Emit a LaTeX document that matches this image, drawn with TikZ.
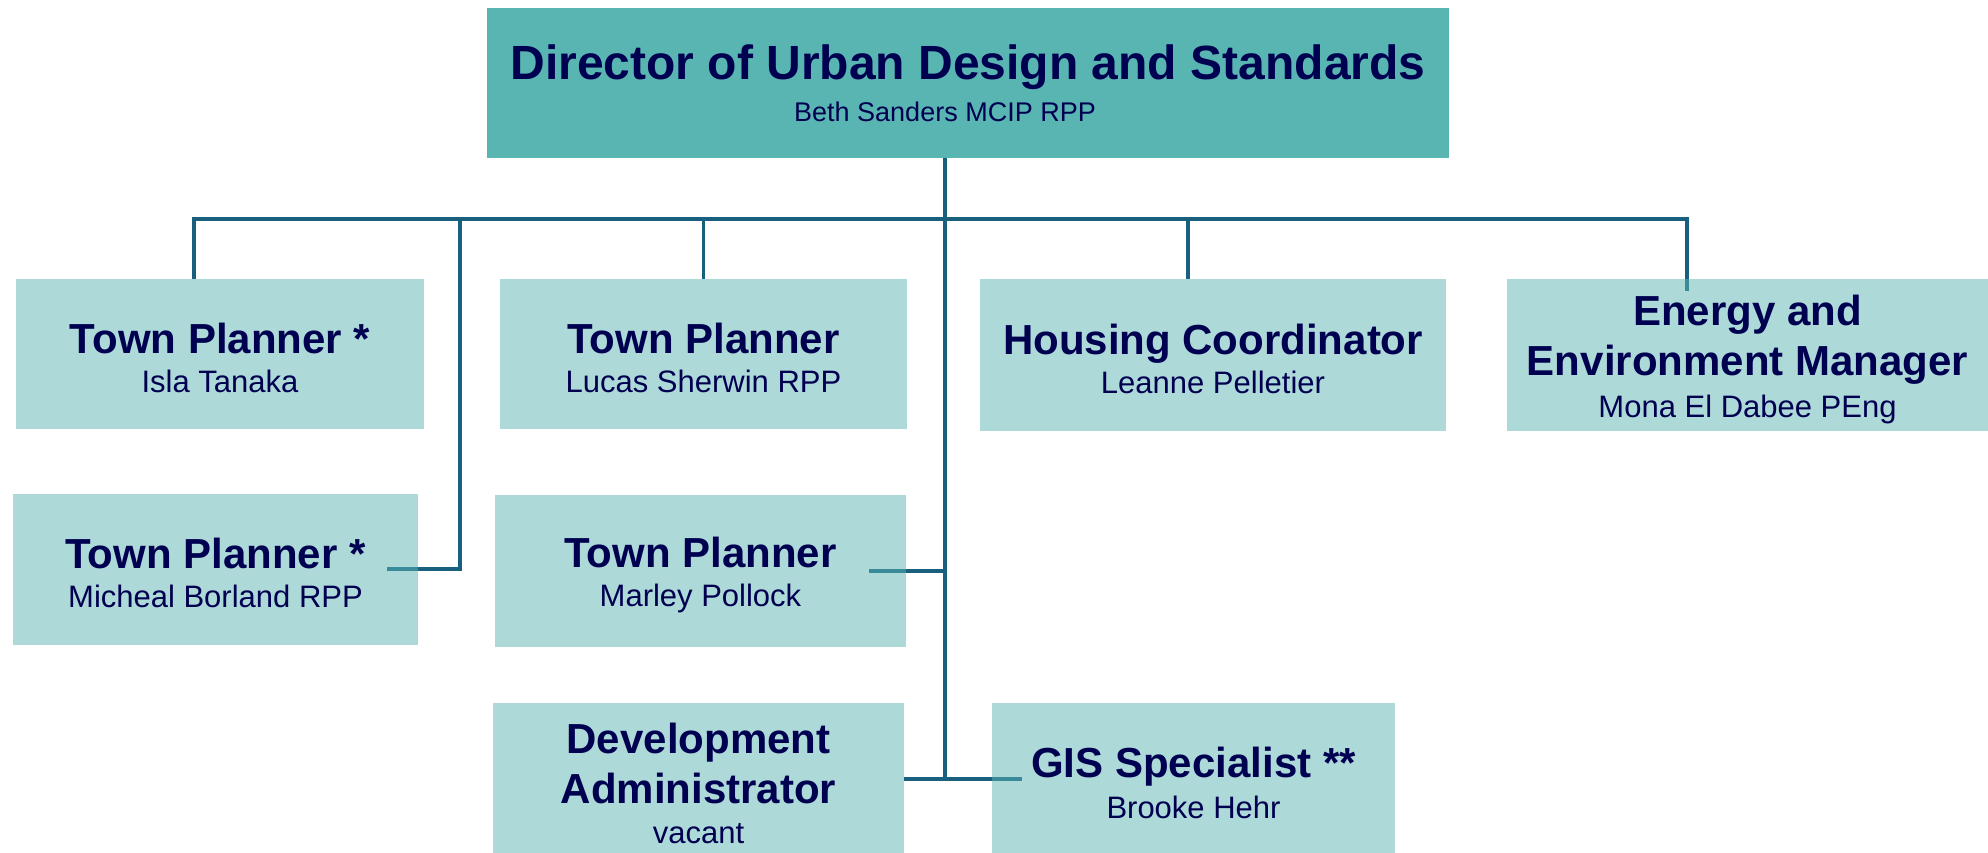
\documentclass[tikz,border=0pt]{standalone}
\usepackage{fontspec}
\setmainfont{Liberation Sans}

\definecolor{navy}{HTML}{000050}
\definecolor{headfill}{HTML}{58B5B2}
\definecolor{boxfill}{HTML}{ADD9D8}
\definecolor{linkcol}{HTML}{19607F}
\definecolor{stubcol}{HTML}{3A8B99}

% title in bold, holder's name below it
\newcommand{\role}[3][-11pt]{\rule{0pt}{39pt}#2\\[#1]{\mdseries\fontsize{31}{40}\selectfont #3}}

\begin{document}
\begin{tikzpicture}[x=1pt,y=-1pt,
    box/.style={fill=boxfill,text=navy,align=center,inner sep=0pt,
      font=\bfseries\fontsize{42}{50}\selectfont},
    head/.style={box,fill=headfill,font=\bfseries\fontsize{48}{54}\selectfont},
    link/.style={draw=linkcol,line width=3.5pt},
    stub/.style={draw=stubcol,line width=3.5pt}]
  \useasboundingbox (0,0) rectangle (1988,852);

  %% director
  \node[head,minimum width=962pt,minimum height=150pt] (dir) at (968,83)
    {Director of Urban Design and Standards\\[-12pt]
     {\mdseries\fontsize{27}{32}\selectfont Beth Sanders MCIP RPP\hspace*{46pt}}};

  %% first row
  \node[box,minimum width=408pt,minimum height=150pt] (tpA) at (220,354)
    {\role{Town Planner *}{Isla Tanaka}};
  \node[box,minimum width=407pt,minimum height=150pt] (tpB) at (703.5,354)
    {\role{Town Planner}{Lucas Sherwin RPP}};
  \node[box,minimum width=466pt,minimum height=152pt] (hous) at (1213,355)
    {\role{Housing Coordinator}{Leanne Pelletier}};
  \node[box,minimum width=481pt,minimum height=152pt] (energy) at (1747.5,355)
    {\role[-8pt]{Energy and\\Environment Manager}{Mona El Dabee PEng}};

  %% second row
  \node[box,minimum width=405pt,minimum height=151pt] (tpE) at (215.5,569)
    {\role{Town Planner *}{Micheal Borland RPP}};
  \node[box,minimum width=411pt,minimum height=152pt] (tpF) at (700.5,571)
    {\role{Town Planner}{Marley Pollock}};

  %% third row
  \node[box,minimum width=411pt,minimum height=152pt] (dev) at (698.5,779)
    {\role[-10pt]{Development\\Administrator}{vacant}};
  \node[box,minimum width=403pt,minimum height=152pt] (gis) at (1193.5,779)
    {\role[-9pt]{GIS Specialist **}{Brooke Hehr}};

  %% bus and drops
  \coordinate (hub) at (945,219);
  \coordinate (dropA) at (194,219);
  \coordinate (dropE) at (460,219);
  \coordinate (dropH) at (1188,219);
  \coordinate (dropN) at (1687,219);

  \draw[link] (dropA |- tpA.north) -- (dropA) -- (dropN) -- (dropN |- energy.north);
  \draw[stub] (dropN |- energy.north) -- ++(0,12);
  \draw[link] (tpB.north) -- (tpB.north |- hub);
  \draw[link] (dropH) -- (dropH |- hous.north);

  %% trunk down the middle
  \draw[link] (dir.south -| hub) -- (hub |- dev.east);
  \draw[link] (dropE) |- (tpE.east);
  \draw[stub] (tpE.east) -- ++(-31,0);
  \draw[link] (hub |- tpF.east) -- (tpF.east);
  \draw[stub] (tpF.east) -- ++(-37,0);
  \draw[link] (dev.east) -- (gis.west);
  \draw[stub] (gis.west) -- ++(30,0);
\end{tikzpicture}
\end{document}
